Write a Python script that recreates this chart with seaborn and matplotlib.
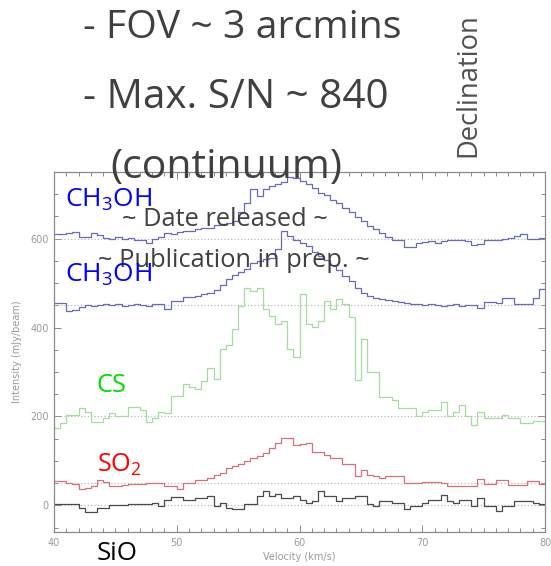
import numpy as np
import pandas as pd
import matplotlib
matplotlib.use("Agg")
import matplotlib.pyplot as plt
import seaborn as sns
from matplotlib.ticker import MultipleLocator

# ---------------- data ----------------
velocity = np.arange(40.0, 80.0, 0.5)   # channel left edges, km/s

ch3oh_upper = [610, 610, 612, 615, 604, 604, 613, 608, 601, 600,
               603, 599, 601, 598, 596, 590, 600, 604, 612, 610,
               614, 617, 618, 622, 625, 625, 630, 632, 636, 640,
               660, 680, 711, 696, 712, 718, 722, 728, 738, 737,
               730, 724, 714, 702, 698, 688, 680, 668, 660, 648,
               640, 628, 621, 612, 604, 596, 596, 582, 582, 590,
               592, 594, 590, 594, 596, 598, 596, 594, 586, 588,
               596, 598, 596, 600, 602, 606, 610, 600, 600, 601]

ch3oh_lower = [456, 456, 438, 440, 446, 450, 449, 451, 452, 450,
               452, 448, 450, 453, 450, 448, 452, 454, 441, 460,
               460, 468, 468, 470, 475, 478, 485, 495, 509, 518,
               525, 531, 545, 550, 554, 556, 577, 617, 605, 598,
               590, 583, 570, 561, 552, 540, 530, 516, 505, 490,
               478, 470, 467, 465, 462, 460, 458, 455, 453, 453,
               450, 452, 451, 449, 450, 452, 448, 450, 451, 444,
               458, 458, 456, 467, 467, 453, 453, 453, 467, 487]

cs = [174, 185, 203, 203, 219, 210, 188, 188, 197, 208,
      200, 200, 222, 222, 214, 188, 196, 210, 207, 246,
      246, 274, 266, 262, 280, 310, 284, 352, 360, 397,
      449, 490, 482, 490, 442, 427, 408, 415, 352, 334,
      475, 408, 401, 415, 460, 442, 464, 453, 423, 282,
      375, 300, 300, 244, 244, 237, 218, 218, 218, 200,
      211, 215, 215, 233, 200, 211, 226, 200, 181, 211,
      196, 196, 196, 203, 196, 196, 185, 185, 190, 190]

so2 = [54, 54, 50, 47, 36, 40, 43, 57, 52, 43,
       43, 45, 47, 47, 48, 51, 51, 50, 43, 43,
       36, 51, 51, 57, 57, 62, 68, 73, 84, 88,
       92, 99, 107, 112, 118, 129, 140, 151, 151, 135,
       138, 140, 121, 121, 114, 107, 107, 92, 92, 66,
       80, 69, 65, 62, 67, 67, 67, 51, 51, 51,
       52, 52, 52, 50, 44, 44, 44, 44, 44, 60,
       47, 47, 56, 56, 45, 45, 45, 54, 54, 47]

sio = [2, 2, 2, 2, -5, -15, -15, -5, -5, 0,
       0, 0, 2, 2, 2, 4, 6, -1, 13, 19,
       19, 13, 13, 17, 17, 21, -1, 6, -5, -9,
       -9, 2, 2, 21, 32, 21, 25, 17, 17, 21,
       13, 6, 10, 33, 21, 21, 10, 17, 17, 21,
       21, 2, -2, 10, 10, 6, 6, -9, -2, -2,
       6, 13, 13, 24, 10, 6, 13, 13, -2, 17,
       -2, -2, -13, -2, -2, 10, 10, 10, 6, 2]

baselines = [0, 50, 200, 450, 600]
x_ticks = [40, 50, 60, 70, 80]
y_ticks = [0, 200, 400, 600]

# ---------------- styling ----------------
sns.set_theme(style="ticks")
TXT_FONT = "Open Sans"
plt.rcParams["font.family"] = ["DejaVu Sans"]
plt.rcParams["mathtext.fontset"] = "custom"
plt.rcParams["mathtext.rm"] = TXT_FONT
plt.rcParams["mathtext.it"] = TXT_FONT
plt.rcParams["mathtext.bf"] = TXT_FONT
plt.rcParams["mathtext.default"] = "rm"

W, H = 551, 566
fig = plt.figure(figsize=(W / 100, H / 100), dpi=100)
fig.patch.set_facecolor("white")
ax = fig.add_axes([54 / W, 1 - 532 / H, 491 / W, 360 / H])
ax.set_facecolor("white")

series = [
    (ch3oh_upper, "#6a6abb"),
    (ch3oh_lower, "#6a6abb"),
    (cs, "#a6dca0"),
    (so2, "#d6707c"),
    (sio, "#4a4a4a"),
]
edges = np.append(velocity, velocity[-1] + 0.5)
for vals, col in series:
    df = pd.DataFrame({"v": edges, "I": np.append(vals, vals[-1])})
    sns.lineplot(data=df, x="v", y="I", drawstyle="steps-post", color=col,
                 lw=0.9, ax=ax, estimator=None, legend=False)

for b in baselines:
    ax.axhline(b, ls=(0, (1, 2)), color="#b0b0b0", lw=0.8, zorder=1)

ax.set_xlim(40, 80)
ax.set_ylim(-60, 750)
ax.set_xticks(x_ticks)
ax.set_yticks(y_ticks)
ax.xaxis.set_minor_locator(MultipleLocator(1))
ax.yaxis.set_minor_locator(MultipleLocator(50))
ax.tick_params(which="both", direction="in", top=True, right=True,
               color="#8a8a8a", width=0.7, labelsize=7, labelcolor="#9a9a9a")
ax.tick_params(which="major", length=5, pad=4)
ax.tick_params(which="minor", length=3)
for sp in ax.spines.values():
    sp.set_color("#8a8a8a")
    sp.set_linewidth(0.9)
ax.set_xlabel("Velocity (km/s)", fontsize=7, color="#9a9a9a", labelpad=3)
ax.set_ylabel("Intensity (mJy/beam)", fontsize=7, color="#9a9a9a", labelpad=6)

# ---------------- overlay text (slide annotations) ----------------
fig.canvas.draw()
renderer = fig.canvas.get_renderer()


def fit_text(x_px, y_px, s, target, rotation=0, **kw):
    t = fig.text(x_px / W, 1 - y_px / H, s, fontsize=20, rotation=rotation,
                 zorder=10, **kw)
    bb = t.get_window_extent(renderer)
    cur = bb.width if rotation == 0 else bb.height
    t.set_fontsize(20 * target / cur)
    return t


dark = "#404040"
fit_text(83, 38, "- FOV ~ 3 arcmins", 318, color=dark, family=TXT_FONT, va="baseline")
fit_text(83, 108, "- Max. S/N ~ 840", 305, color=dark, family=TXT_FONT, va="baseline")
fit_text(110, 178, "(continuum)", 232, color=dark, family=TXT_FONT, va="baseline")
fit_text(468, 85, "Declination", 144, rotation=90, color="#505050",
         family=TXT_FONT, ha="center", va="center")

fit_text(65, 207, r"CH$_3$OH", 87, color="#0000ff", family=TXT_FONT, va="baseline")
fit_text(122, 226, "~ Date released ~", 206, color=dark, family=TXT_FONT, va="baseline")
fit_text(98, 267, "~ Publication in prep. ~", 272, color=dark, family=TXT_FONT, va="baseline")
fit_text(65, 282, r"CH$_3$OH", 87, color="#0000ff", family=TXT_FONT, va="baseline")
fit_text(97, 392, "CS", 30, color="#00dd00", family=TXT_FONT, va="baseline")
fit_text(97, 472, r"SO$_2$", 45, color="#ff0000", family=TXT_FONT, va="baseline")
fit_text(97, 560, "SiO", 41, color="black", family=TXT_FONT, va="baseline")

fig.savefig("out.png", dpi=100, facecolor="white")
